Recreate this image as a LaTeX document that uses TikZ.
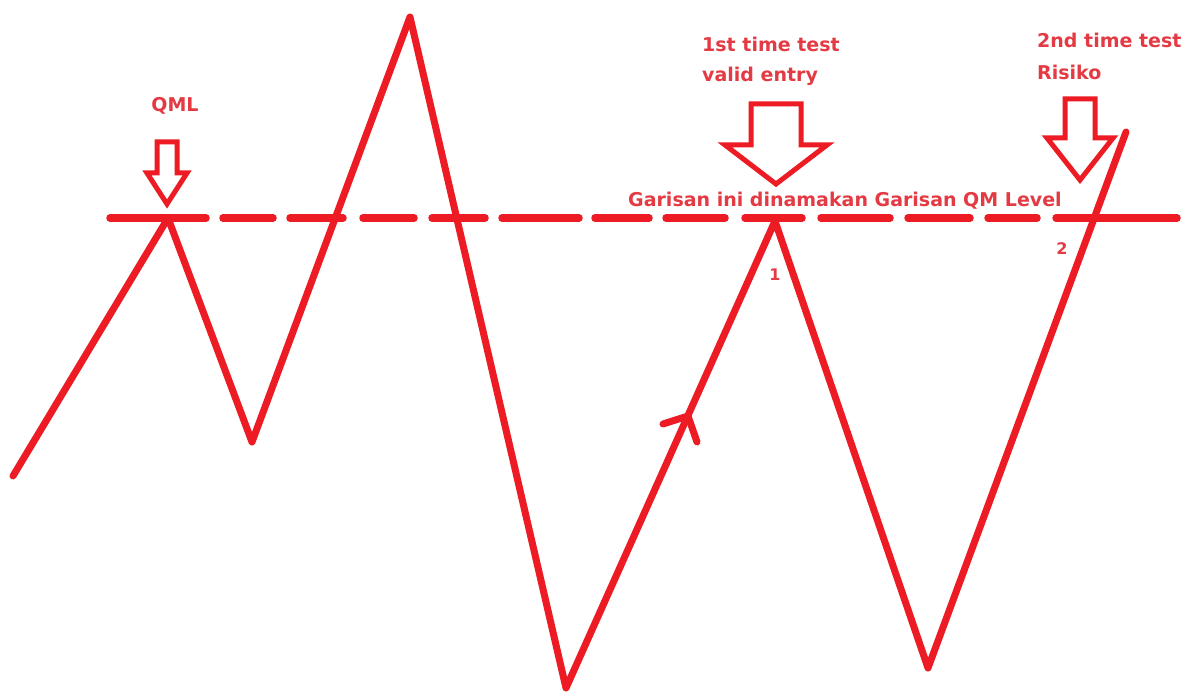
\documentclass[tikz,border=0pt]{standalone}
\usepackage{fontspec}
\setmainfont{DejaVu Sans}
\usetikzlibrary{positioning}

\definecolor{paintred}{RGB}{237,28,36}
\definecolor{labelred}{RGB}{228,58,68}

\begin{document}
\begin{tikzpicture}[
  x=1pt, y=-1pt,
  zig/.style={draw=paintred, line width=7pt, line cap=round, line join=round},
  qmdash/.style={draw=paintred, line width=7.5pt, line cap=round},
  blockarr/.style={draw=paintred, line width=5pt, line join=miter, fill=white},
  lbl/.style={text=labelred, font=\bfseries\fontsize{19}{23}\selectfont,
              inner sep=0pt, anchor=base west},
  digit/.style={lbl, anchor=base, font=\bfseries\fontsize{16}{19}\selectfont}
]
\useasboundingbox[fill=white] (0,0) rectangle (1189,698);

% the QM level line, hand drawn dashes
\foreach \a/\b in {107/209, 220/276, 287/346, 360/417, 429/488, 499/582,
                   592/652, 663/728, 742/805, 818/893, 905/973, 985/1040,
                   1053/1180}
  \draw[qmdash] ({\a+3},218) -- ({\b-3},218);

% price swings
\coordinate (start)  at (13,476);
\coordinate (qml)    at (168,218);
\coordinate (low1)   at (252,442);
\coordinate (high)   at (410,17);
\coordinate (low2)   at (566,688);
\coordinate (test1)  at (775,221);
\coordinate (low3)   at (928,668);
\coordinate (finish) at (1126,132);

\draw[zig] (start) -- (qml) -- (low1) -- (high) -- (low2)
  -- (test1) -- (low3) -- (finish);

% open arrow head on the rising leg
\coordinate (tip) at (688,416);
\draw[zig] (663,424) -- (tip) -- (697,442);

% hollow block arrows: centre/top/half shaft/head y/half head/tip y
\foreach \cx/\ty/\hs/\hy/\hh/\py in {167/142/10/173/20/204,
                                     776/104/25/145/51/184,
                                     1080/99/15/138/33/180}
  \draw[blockarr] (\cx-\hs,\ty) -- (\cx+\hs,\ty) -- (\cx+\hs,\hy)
    -- (\cx+\hh,\hy) -- (\cx,\py) -- (\cx-\hh,\hy) -- (\cx-\hs,\hy) -- cycle;

% labels
\node[lbl, anchor=base] (qmllbl) at (175,112) {QML};
\node[lbl] (firsta)  at (702,52) {1st time test};
\node[lbl] (firstb)  at (702,82) {valid entry};
\node[lbl] (seconda) at (1037,48) {2nd time test};
\node[lbl] (secondb) at (1037,80) {Risiko};
\node[lbl] (levellbl) at (628,207) {Garisan ini dinamakan Garisan QM Level};
\node[digit] (one) at (775,280) {1};
\node[digit] (two) at (1062,254) {2};
\end{tikzpicture}
\end{document}
